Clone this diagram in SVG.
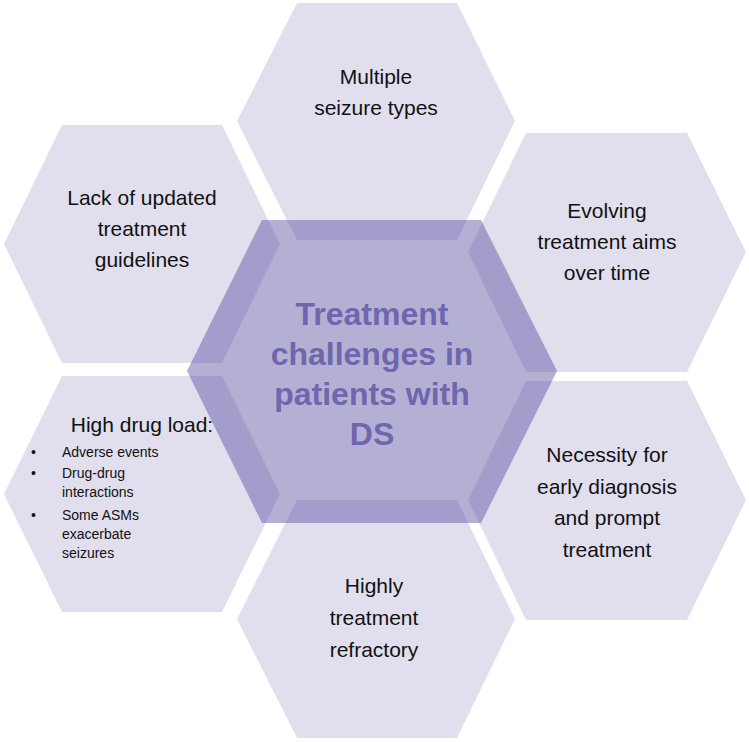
<svg xmlns="http://www.w3.org/2000/svg" width="749" height="742" viewBox="0 0 749 742">
<style>
.hex{fill:#e1dfee}
.t{font-family:"Liberation Sans",Arial,sans-serif;font-size:21px;fill:#111;text-anchor:middle}
.s{font-family:"Liberation Sans",Arial,sans-serif;font-size:14px;fill:#111}
.c{font-family:"Liberation Sans",Arial,sans-serif;font-size:32px;font-weight:bold;fill:#6f66ad;text-anchor:middle}
</style>
<rect width="749" height="742" fill="#fff"/>
<g id="top"><polygon class="hex" points="297,3 457,3 515,121 457,240 297,240 237,121"/>
<text class="t" x="376" y="84">Multiple</text><text class="t" x="376" y="115">seizure types</text></g>
<g id="upperleft"><polygon class="hex" points="62,125 222,125 280,244 222,363 62,363 4,244"/>
<text class="t" x="142" y="205">Lack of updated</text><text class="t" x="142" y="236">treatment</text><text class="t" x="142" y="267">guidelines</text></g>
<g id="upperright"><polygon class="hex" points="526,133 687,133 746,252 687,372 526,372 468,252"/>
<text class="t" x="607" y="218">Evolving</text><text class="t" x="607" y="249">treatment aims</text><text class="t" x="607" y="280">over time</text></g>
<g id="lowerleft"><polygon class="hex" points="62,376 222,376 280,494 222,612 62,612 4,494"/>
<text class="t" x="142" y="432">High drug load:</text>
<g class="s"><text x="31" y="457">•</text><text x="62" y="457">Adverse events</text>
<text x="31" y="478">•</text><text x="62" y="478">Drug-drug</text><text x="62" y="497">interactions</text>
<text x="31" y="520">•</text><text x="62" y="520">Some ASMs</text><text x="62" y="539">exacerbate</text><text x="62" y="558">seizures</text></g></g>
<g id="lowerright"><polygon class="hex" points="526,381 687,381 746,500 687,620 526,620 468,500"/>
<text class="t" x="607" y="462">Necessity for</text><text class="t" x="607" y="494">early diagnosis</text><text class="t" x="607" y="525">and prompt</text><text class="t" x="607" y="557">treatment</text></g>
<g id="bottom"><polygon class="hex" points="297,500 457,500 515,619 457,738 297,738 237,619"/>
<text class="t" x="374" y="593">Highly</text><text class="t" x="374" y="625">treatment</text><text class="t" x="374" y="657">refractory</text></g>
<g id="center"><polygon points="262,220 481,220 557,371 481,523 262,523 187,371" fill="#4a4097" fill-opacity="0.41"/>
<text class="c" x="372" y="325">Treatment</text><text class="c" x="372" y="365">challenges in</text><text class="c" x="372" y="405">patients with</text><text class="c" x="372" y="445">DS</text></g>
<g id="connectors"/>
</svg>
